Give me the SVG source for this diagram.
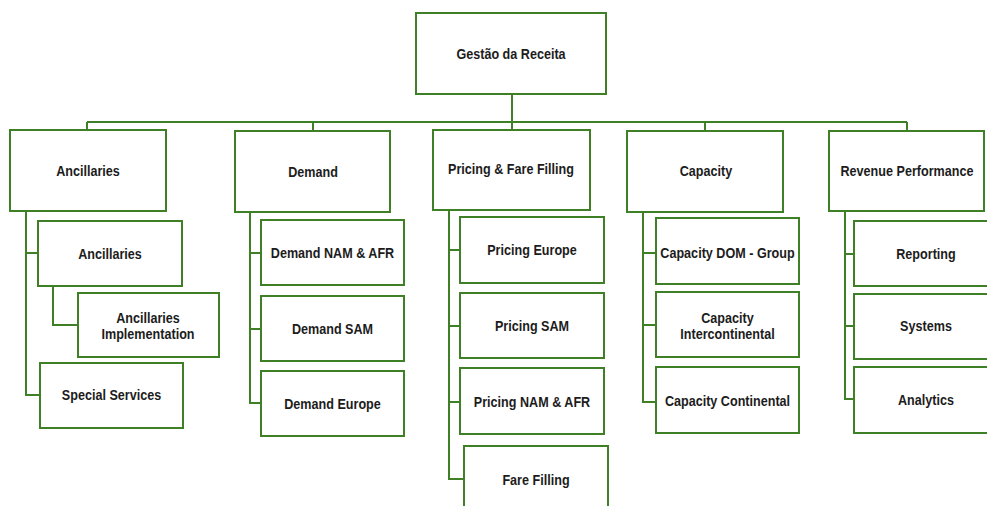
<svg xmlns="http://www.w3.org/2000/svg" width="987" height="506" viewBox="0 0 987 506">
<style>
.box{fill:#fff;stroke:#3f7f25;stroke-width:2}
.ln{fill:none;stroke:#3f7f25;stroke-width:2}
text{font-family:"Liberation Sans",Arial,sans-serif;font-weight:bold;font-size:15px;fill:#1c1c1c;text-anchor:middle;dominant-baseline:central}
</style>
<rect width="987" height="506" fill="#fff"/>
<g id="connectors">
<path class="ln" d="M512,94V122M87,122H907M87,122V130M313,122V131M512,122V130M705,122V131M907,122V131"/>
<path class="ln" d="M26,211V395H40M26,253H38M53,286V325H78"/>
<path class="ln" d="M250,212V403H261M250,253H261M250,329H261"/>
<path class="ln" d="M449,210V479H464M449,250H460M449,326H460M449,402H460"/>
<path class="ln" d="M643,212V402H656M643,253H656M643,325H656"/>
<path class="ln" d="M845,211V399H854M845,254H854M845,326H854"/>
</g>
<g id="n-root"><rect class="box" x="416" y="13" width="190" height="81"/><text transform="translate(511,53.5) scale(0.84,1)">Gestão da Receita</text></g>
<g id="n-ancillaries"><rect class="box" x="10" y="130" width="156" height="81"/><text transform="translate(88,171) scale(0.84,1)">Ancillaries</text></g>
<g id="n-demand"><rect class="box" x="235" y="131" width="155" height="81"/><text transform="translate(313,172) scale(0.84,1)">Demand</text></g>
<g id="n-pricing"><rect class="box" x="433" y="130" width="157" height="80"/><text transform="translate(511,169) scale(0.84,1)">Pricing &amp; Fare Filling</text></g>
<g id="n-capacity"><rect class="box" x="627" y="131" width="156" height="81"/><text transform="translate(706,171) scale(0.84,1)">Capacity</text></g>
<g id="n-revenue"><rect class="box" x="829" y="131" width="155" height="80"/><text transform="translate(907,171) scale(0.84,1)">Revenue Performance</text></g>

<g id="n-anc-child"><rect class="box" x="38" y="221" width="144" height="65"/><text transform="translate(110,254) scale(0.84,1)">Ancillaries</text></g>
<g id="n-anc-impl"><rect class="box" x="78" y="293" width="141" height="64"/><text transform="translate(148,317.5) scale(0.84,1)">Ancillaries</text><text transform="translate(148,333.5) scale(0.84,1)">Implementation</text></g>
<g id="n-special"><rect class="box" x="40" y="363" width="143" height="65"/><text transform="translate(111.5,395) scale(0.84,1)">Special Services</text></g>

<g id="n-dem-nam"><rect class="box" x="261" y="220" width="143" height="65"/><text transform="translate(332.5,253) scale(0.84,1)">Demand NAM &amp; AFR</text></g>
<g id="n-dem-sam"><rect class="box" x="261" y="296" width="143" height="65"/><text transform="translate(332.5,329) scale(0.84,1)">Demand SAM</text></g>
<g id="n-dem-eur"><rect class="box" x="261" y="371" width="143" height="65"/><text transform="translate(332.5,404) scale(0.84,1)">Demand Europe</text></g>

<g id="n-pr-eur"><rect class="box" x="460" y="217" width="144" height="66"/><text transform="translate(532,250) scale(0.84,1)">Pricing Europe</text></g>
<g id="n-pr-sam"><rect class="box" x="460" y="293" width="144" height="65"/><text transform="translate(532,325.5) scale(0.84,1)">Pricing SAM</text></g>
<g id="n-pr-nam"><rect class="box" x="460" y="368" width="144" height="66"/><text transform="translate(532,402) scale(0.84,1)">Pricing NAM &amp; AFR</text></g>
<g id="n-fare"><rect class="box" x="464" y="446" width="144" height="66"/><text transform="translate(536,479.5) scale(0.84,1)">Fare Filling</text></g>

<g id="n-cap-dom"><rect class="box" x="656" y="218" width="143" height="66"/><text transform="translate(727.5,253) scale(0.84,1)">Capacity DOM - Group</text></g>
<g id="n-cap-int"><rect class="box" x="656" y="292" width="143" height="65"/><text transform="translate(727.5,317.5) scale(0.84,1)">Capacity</text><text transform="translate(727.5,333.5) scale(0.84,1)">Intercontinental</text></g>
<g id="n-cap-con"><rect class="box" x="656" y="367" width="143" height="66"/><text transform="translate(727.5,401) scale(0.84,1)">Capacity Continental</text></g>

<g id="n-reporting"><rect class="box" x="854" y="221" width="144" height="65"/><text transform="translate(926,254) scale(0.84,1)">Reporting</text></g>
<g id="n-systems"><rect class="box" x="854" y="294" width="144" height="65"/><text transform="translate(926,326) scale(0.84,1)">Systems</text></g>
<g id="n-analytics"><rect class="box" x="854" y="367" width="144" height="66"/><text transform="translate(926,400) scale(0.84,1)">Analytics</text></g>
</svg>
